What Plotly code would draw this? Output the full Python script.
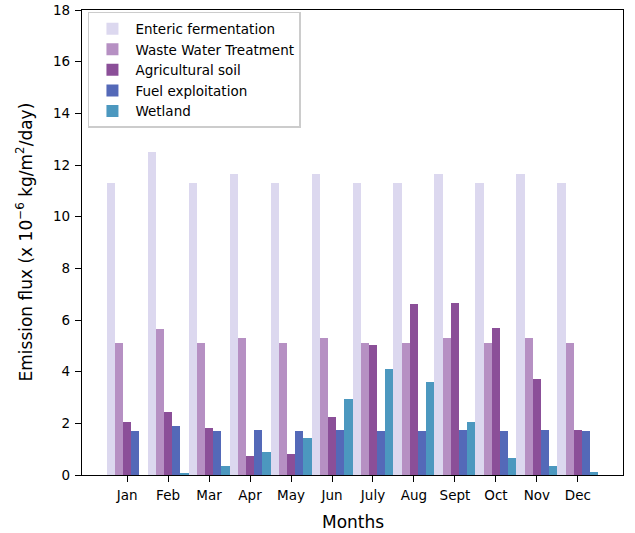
import plotly.graph_objects as go

months = ["Jan", "Feb", "Mar", "Apr", "May", "Jun", "July", "Aug", "Sept", "Oct", "Nov", "Dec"]
enteric = [11.3, 12.5, 11.3, 11.65, 11.3, 11.65, 11.3, 11.3, 11.65, 11.3, 11.65, 11.32]
wastewater = [5.1, 5.65, 5.1, 5.3, 5.1, 5.3, 5.1, 5.1, 5.3, 5.1, 5.3, 5.1]
agricultural = [2.05, 2.44, 1.82, 0.74, 0.81, 2.25, 5.03, 6.62, 6.66, 5.69, 3.72, 1.74]
fuel = [1.7, 1.9, 1.7, 1.74, 1.7, 1.74, 1.7, 1.7, 1.74, 1.7, 1.74, 1.7]
wetland = [0.0, 0.08, 0.35, 0.9, 1.43, 2.94, 4.1, 3.6, 2.05, 0.66, 0.35, 0.12]

series = [
    ("Enteric fermentation", enteric, "#dcd8ef"),
    ("Waste Water Treatment", wastewater, "#b690c3"),
    ("Agricultural soil", agricultural, "#8b4f98"),
    ("Fuel exploitation", fuel, "#5469b8"),
    ("Wetland", wetland, "#4c98bf"),
]

x = list(range(len(months)))
fig = go.Figure()
for name, vals, col in series:
    fig.add_trace(go.Bar(x=x, y=vals, name=name, marker=dict(color=col, line=dict(width=0))))

fig.update_layout(
    width=635, height=533,
    margin=dict(l=82, r=12, t=10, b=58),
    paper_bgcolor="white", plot_bgcolor="white",
    barmode="group", bargap=0, bargroupgap=0,
    font=dict(family="DejaVu Sans", size=13.5, color="black"),
    showlegend=True,
    legend=dict(x=0.011, y=0.9957, xanchor="left", yanchor="top",
                bgcolor="white", bordercolor="#cccccc", borderwidth=1.5,
                font=dict(size=13.5), tracegroupgap=0, itemwidth=36),
    annotations=[
        dict(text="Months", xref="paper", yref="paper", x=0.5, y=0, yshift=-47,
             xanchor="center", yanchor="middle", showarrow=False, font=dict(size=17)),
        dict(text="Emission flux (x 10<sup>−6</sup> kg/m<sup>2</sup>/day)", xref="paper", yref="paper",
             x=0, y=0.5, xshift=-58, xanchor="center", yanchor="middle", textangle=-90,
             showarrow=False, font=dict(size=17)),
    ],
)
fig.update_xaxes(
    range=[-1.1, 11 + 1.1], tickvals=x, ticktext=months, automargin=False,
    showline=True, linecolor="black", linewidth=1.2, mirror=True,
    ticks="outside", ticklen=6, tickcolor="black", showgrid=False, zeroline=False,
    tickfont=dict(size=13.5), ticklabelstandoff=2,
)
fig.update_yaxes(
    range=[0, 18], tickvals=list(range(0, 19, 2)), automargin=False,
    showline=True, linecolor="black", linewidth=1.2, mirror=True,
    ticks="outside", ticklen=6, tickcolor="black", showgrid=False, zeroline=False,
    tickfont=dict(size=13.5), ticklabelstandoff=2,
)
fig.write_html("out.html", config={"displayModeBar": False},
               post_script="document.body.style.margin='0';")
